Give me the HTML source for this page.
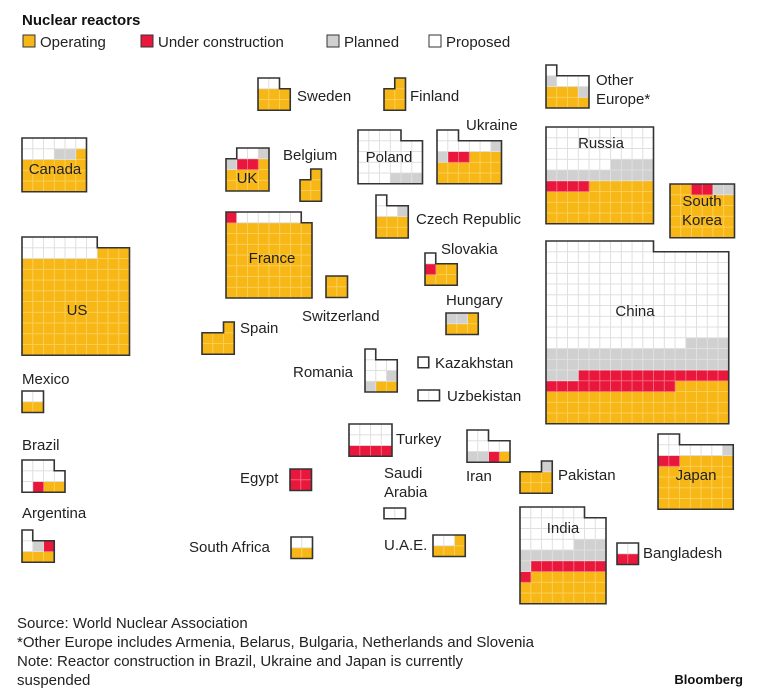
<!DOCTYPE html>
<html><head><meta charset="utf-8">
<style>
body{margin:0;background:#fff;}
svg{display:block;font-family:"Liberation Sans",sans-serif;}
</style></head>
<body>
<svg id="chart" width="762" height="698" viewBox="0 0 762 698">
<text x="22" y="25" font-size="15" font-weight="bold" fill="#111">Nuclear reactors</text>
<g font-size="15" fill="#222">
<rect x="23" y="35" width="12" height="12" fill="#f7b716" stroke="#333" stroke-width="1"/>
<text x="40" y="47">Operating</text>
<rect x="141" y="35" width="12" height="12" fill="#e8173b" stroke="#333" stroke-width="1"/>
<text x="158" y="47">Under construction</text>
<rect x="327" y="35" width="12" height="12" fill="#d0d0d0" stroke="#333" stroke-width="1"/>
<text x="344" y="47">Planned</text>
<rect x="429" y="35" width="12" height="12" fill="#fff" stroke="#333" stroke-width="1"/>
<text x="446" y="47">Proposed</text>
</g>
<g id="waffles"></g>
<g font-size="15" fill="#222">
<text x="17" y="628">Source: World Nuclear Association</text>
<text x="17" y="647">*Other Europe includes Armenia, Belarus, Bulgaria, Netherlands and Slovenia</text>
<text x="17" y="666">Note: Reactor construction in Brazil, Ukraine and Japan is currently</text>
<text x="17" y="685">suspended</text>
<text x="743" y="684" font-size="13" font-weight="bold" text-anchor="end" fill="#111">Bloomberg</text>
</g>
</svg>
<script>
const countries = ["Canada","US","Mexico","Brazil","Argentina","UK","France","Spain","Switzerland","Sweden","Finland","Belgium","Poland","Ukraine","Other Europe","Russia","South Korea","Czech Republic","Slovakia","Hungary","Romania","Kazakhstan","Uzbekistan","Turkey","Iran","Egypt","Saudi Arabia","U.A.E.","South Africa","Pakistan","Japan","India","Bangladesh","China"];
const operating =          [19,93,2,2,3,9,56,7,4,6,5,5,0,15,7,36,26,6,5,4,2,0,0,0,1,0,0,4,2,6,33,23,0,56];
const underConstruction =  [0,0,0,1,1,2,1,0,0,0,0,0,0,2,0,4,2,0,1,0,0,0,0,4,1,4,0,0,0,0,2,8,2,26];
const planned =            [2,0,0,0,1,2,0,0,0,0,0,0,3,2,2,14,2,1,0,2,2,0,0,0,2,0,0,0,0,1,1,12,0,41];
const proposed =           [9,14,2,8,2,2,6,0,0,2,0,0,25,7,4,36,0,3,1,0,6,1,2,8,6,0,2,2,2,0,8,27,2,159];

// layout: x, y(top), cols, top-row alignment, fill direction
const layout = [
 [22,138,6,'l','r'],[22,237,10,'l','r'],[22,391,2,'l','r'],[22,460,4,'l','r'],[22,530,3,'l','r'],
 [226,148,4,'r','r'],[226,212,8,'l','l'],[202,322,3,'r','r'],[326,276,2,'l','r'],[258,78,3,'l','r'],
 [384,78,2,'r','r'],[300,169,2,'r','r'],[358,130,6,'l','r'],[437,130,6,'l','r'],[546,65,4,'l','l'],
 [546,127,10,'l','r'],[670,184,6,'l','l'],[376,195,3,'l','r'],[425,253,3,'l','r'],[446,313,3,'l','r'],
 [365,349,3,'l','r'],[418,357,1,'l','r'],[418,390,2,'l','r'],[349,424,4,'l','r'],[467,430,4,'l','r'],
 [290,469,2,'l','r'],[384,508,2,'l','r'],[433,535,3,'l','r'],[291,537,2,'l','r'],[520,461,3,'r','r'],
 [658,434,7,'l','r'],[520,507,8,'l','r'],[617,543,2,'l','r'],[546,241,17,'l','r']
];
// labels: [text lines], x, y, anchor
const labels = [
 [["Canada"],55,174,'middle'],[["US"],77,315,'middle'],[["Mexico"],22,384,'start'],[["Brazil"],22,450,'start'],[["Argentina"],22,518,'start'],
 [["UK"],247,183,'middle'],[["France"],272,263,'middle'],[["Spain"],240,333,'start'],[["Switzerland"],302,321,'start'],[["Sweden"],297,101,'start'],
 [["Finland"],410,101,'start'],[["Belgium"],283,160,'start'],[["Poland"],389,162,'middle'],[["Ukraine"],466,130,'start'],[["Other","Europe*"],596,85,'start'],
 [["Russia"],601,148,'middle'],[["South","Korea"],702,206,'middle'],[["Czech Republic"],416,224,'start'],[["Slovakia"],441,254,'start'],[["Hungary"],446,305,'start'],
 [["Romania"],293,377,'start'],[["Kazakhstan"],435,368,'start'],[["Uzbekistan"],447,401,'start'],[["Turkey"],396,444,'start'],[["Iran"],466,481,'start'],
 [["Egypt"],240,483,'start'],[["Saudi","Arabia"],384,478,'start'],[["U.A.E."],384,550,'start'],[["South Africa"],189,552,'start'],[["Pakistan"],558,480,'start'],
 [["Japan"],696,480,'middle'],[["India"],563,533,'middle'],[["Bangladesh"],643,558,'start'],[["China"],635,316,'middle']
];
const C = 10.75;
const fills = ["#f7b716","#e8173b","#d0d0d0","#ffffff"];
const grid = ["#fbd15e","#f56d85","#e2e2e2","#dcdcdc"];
const catNames = ["operating","under-construction","planned","proposed"];
const NS = "http://www.w3.org/2000/svg";
const root = document.getElementById('waffles');
function slug(s){return s.toLowerCase().replace(/[^a-z]+/g,'-').replace(/-$/,'');}
countries.forEach((name,i)=>{
  const counts=[operating[i],underConstruction[i],planned[i],proposed[i]];
  const N=counts.reduce((a,b)=>a+b,0);
  const [x0,y0,cols,align,dir]=layout[i];
  const full=Math.floor(N/cols), rem=N%cols, rows=full+(rem?1:0);
  const g=document.createElementNS(NS,'g');
  
  
  root.appendChild(g);
  // ordered cells
  const cells=[];
  for(let r=0;r<rows;r++){
    let cs=[];
    if(r<full){for(let c=0;c<cols;c++)cs.push(c);}
    else{for(let k=0;k<rem;k++)cs.push(align==='l'?k:cols-rem+k);}
    if(dir==='r')cs.reverse();
    cs.forEach(c=>cells.push([r,c]));
  }
  let idx=0;
  counts.forEach((n,cat)=>{
    for(let k=0;k<n;k++){
      const [r,c]=cells[idx++];
      const rect=document.createElementNS(NS,'rect');
      rect.setAttribute('x',x0+c*C);
      rect.setAttribute('y',y0+(rows-1-r)*C);
      rect.setAttribute('width',C);rect.setAttribute('height',C);
      rect.setAttribute('fill',fills[cat]);
      rect.setAttribute('stroke',grid[cat]);rect.setAttribute('stroke-width','0.8');
      
      
      g.appendChild(rect);
    }
  });
  // outline
  const W=cols*C,H=rows*C;
  let d;
  if(!rem){d=`M${x0},${y0}h${W}v${H}h${-W}Z`;}
  else if(align==='l'){d=`M${x0},${y0}h${rem*C}v${C}h${(cols-rem)*C}v${H-C}h${-W}Z`;}
  else{d=`M${x0},${y0+C}h${(cols-rem)*C}v${-C}h${rem*C}v${H}h${-W}Z`;}
  const p=document.createElementNS(NS,'path');
  p.setAttribute('d',d);p.setAttribute('fill','none');
  p.setAttribute('stroke','#333');p.setAttribute('stroke-width','1.6');
  
  
  g.appendChild(p);
  const [lines,lx,ly,anc]=labels[i];
  lines.forEach((t,j)=>{
    const tx=document.createElementNS(NS,'text');
    tx.setAttribute('x',lx);tx.setAttribute('y',ly+j*19);
    tx.setAttribute('font-size','15');tx.setAttribute('fill','#222');
    tx.setAttribute('text-anchor',anc);
    
    
    tx.textContent=t;
    g.appendChild(tx);
  });
});
</script>
</body></html>
